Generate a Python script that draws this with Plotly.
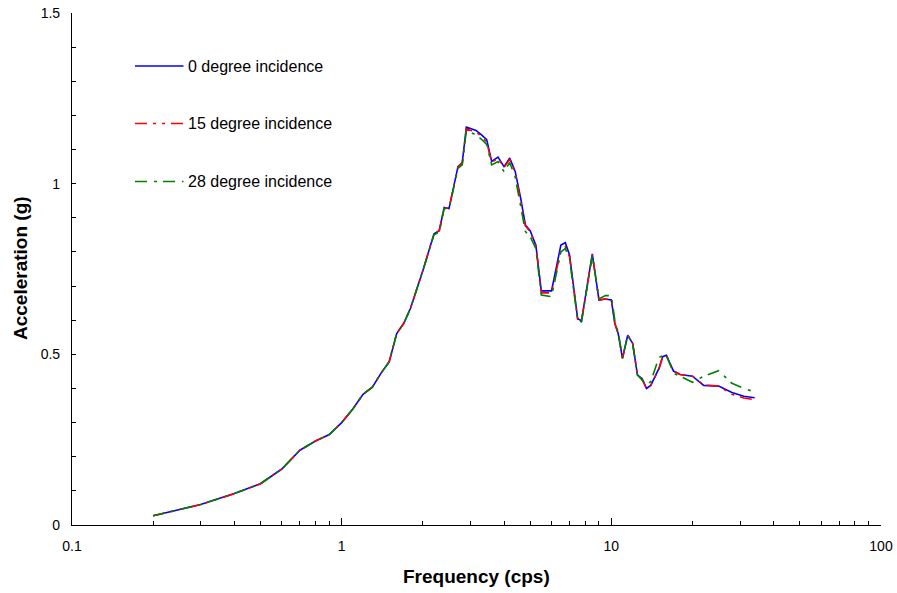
import plotly.graph_objects as go

freq = [0.2, 0.3, 0.4, 0.5, 0.6, 0.7, 0.8, 0.9, 1.0, 1.1, 1.2, 1.3, 1.4, 1.5, 1.6, 1.7, 1.8, 1.9, 2.0,
        2.2, 2.3, 2.4, 2.5, 2.7, 2.8, 2.9, 3.15, 3.3, 3.45, 3.6, 3.8, 4.0, 4.2, 4.4, 4.6, 4.8, 5.0,
        5.25, 5.5, 6.0, 6.5, 6.75, 7.0, 7.5, 7.75, 8.5, 9.0, 9.5, 10.0, 10.3, 10.6, 11.0, 11.5, 12.0,
        12.5, 13.0, 13.5, 14.0, 15.0, 15.5, 16.0, 17.0, 18.0, 20.0, 22.0, 25.0, 28.0, 31.0, 34.0]

acc_0 = [0.027, 0.060, 0.092, 0.121, 0.164, 0.219, 0.246, 0.265, 0.300, 0.340, 0.383, 0.404, 0.445,
         0.478, 0.561, 0.591, 0.635, 0.690, 0.745,
         0.853, 0.862, 0.930, 0.927, 1.050, 1.062, 1.166, 1.156, 1.143, 1.129, 1.065, 1.078, 1.050,
         1.075, 1.036, 0.962, 0.879, 0.862,
         0.820, 0.686, 0.686, 0.820, 0.827, 0.791, 0.605, 0.598, 0.794, 0.659, 0.662, 0.659, 0.591,
         0.561, 0.488, 0.556, 0.532,
         0.439, 0.429, 0.400, 0.409, 0.458, 0.493, 0.497, 0.451, 0.441, 0.436, 0.409, 0.407, 0.388,
         0.377, 0.373]

acc_15 = [0.027, 0.060, 0.092, 0.121, 0.164, 0.219, 0.246, 0.265, 0.300, 0.340, 0.383, 0.404, 0.445,
          0.478, 0.561, 0.591, 0.635, 0.690, 0.745,
          0.853, 0.862, 0.930, 0.927, 1.050, 1.060, 1.160, 1.152, 1.138, 1.122, 1.062, 1.075, 1.047,
          1.072, 1.033, 0.958, 0.876, 0.860,
          0.818, 0.680, 0.680, 0.805, 0.815, 0.785, 0.603, 0.597, 0.792, 0.659, 0.662, 0.659, 0.591,
          0.561, 0.488, 0.556, 0.532,
          0.439, 0.427, 0.400, 0.409, 0.455, 0.493, 0.497, 0.451, 0.441, 0.436, 0.410, 0.407, 0.383,
          0.372, 0.367]

acc_28 = [0.027, 0.060, 0.092, 0.121, 0.164, 0.219, 0.246, 0.265, 0.300, 0.340, 0.383, 0.404, 0.445,
          0.478, 0.561, 0.591, 0.635, 0.690, 0.745,
          0.850, 0.858, 0.928, 0.925, 1.045, 1.055, 1.156, 1.143, 1.130, 1.115, 1.055, 1.065, 1.035,
          1.062, 1.020, 0.940, 0.860, 0.845,
          0.810, 0.674, 0.669, 0.800, 0.810, 0.780, 0.600, 0.595, 0.790, 0.662, 0.672, 0.672, 0.600,
          0.565, 0.490, 0.556, 0.530,
          0.440, 0.425, 0.410, 0.420, 0.490, 0.497, 0.497, 0.445, 0.435, 0.418, 0.436, 0.452, 0.415,
          0.400, 0.390]

names = ["0 degree incidence", "15 degree incidence", "28 degree incidence"]
colors = ["#0000FF", "#FF0000", "#008000"]
dashes = ["solid", "12px,6px,3px,6px,3px,6px", "12px,7px,3px,6px"]
series = [acc_0, acc_15, acc_28]

fig = go.Figure()
for name, ys, c, d in zip(names, series, colors, dashes):
    fig.add_trace(go.Scatter(x=freq, y=ys, mode="lines", name=name,
                             line=dict(color=c, width=1.6, dash=d), showlegend=False))

# manual legend (sample lines + labels)
leg_y = [66, 123.5, 181.5]
W, H = 897, 593
L, R, T, B = 72, 16, 13, 68
pw, ph = W - L - R, H - T - B
for name, c, d, yy in zip(names, colors, dashes, leg_y):
    yp = (H - B - yy) / ph
    x0 = (135 - L) / pw
    x1 = (183.5 - L) / pw
    fig.add_shape(type="line", xref="paper", yref="paper", x0=x0, x1=x1, y0=yp, y1=yp,
                  line=dict(color=c, width=1.6, dash=d))
    fig.add_annotation(xref="paper", yref="paper", x=(186 - L) / pw, y=yp, text=name,
                       showarrow=False, xanchor="left", yanchor="middle",
                       font=dict(family="Liberation Sans, Arial", size=16, color="black"))

# axis titles
fig.add_annotation(xref="paper", yref="paper", x=(476 - L) / pw, y=(H - B - 576) / ph,
                   text="<b>Frequency (cps)</b>", showarrow=False, xanchor="center", yanchor="middle",
                   font=dict(family="Liberation Sans, Arial", size=19, color="black"))
fig.add_annotation(xref="paper", yref="paper", x=(20 - L) / pw, y=(H - B - 268) / ph,
                   text="<b>Acceleration (g)</b>", showarrow=False, textangle=-90,
                   xanchor="center", yanchor="middle",
                   font=dict(family="Liberation Sans, Arial", size=19, color="black"))

minor_x = [m * 10 ** e for e in (-1, 0, 1) for m in range(2, 10)]

fig.update_layout(
    width=W, height=H,
    margin=dict(l=L, r=R, t=T, b=B, autoexpand=False),
    paper_bgcolor="white", plot_bgcolor="white",
    font=dict(family="Liberation Sans, Arial", size=14, color="black"),
    xaxis=dict(type="log", range=[-1, 2], tickvals=[0.1, 1, 10, 100],
               ticktext=["0.1", "1", "10", "100"], automargin=False,
               ticks="inside", ticklen=7, tickcolor="black", tickwidth=1,
               showline=True, linecolor="black", linewidth=1.2, showgrid=False, zeroline=False,
               ticklabelstandoff=8,
               minor=dict(tickvals=minor_x, ticks="inside", ticklen=4, tickcolor="black",
                          showgrid=False)),
    yaxis=dict(range=[0, 1.5], tickvals=[0, 0.5, 1, 1.5], ticktext=["0", "0.5", "1", "1.5"],
               automargin=False,
               ticks="inside", ticklen=4, tickcolor="black", tickwidth=1,
               showline=True, linecolor="black", linewidth=1.2, showgrid=False, zeroline=False,
               ticklabelstandoff=8,
               minor=dict(dtick=0.1, ticks="inside", ticklen=4, tickcolor="black", showgrid=False)),
)

fig.write_html("out.html")
